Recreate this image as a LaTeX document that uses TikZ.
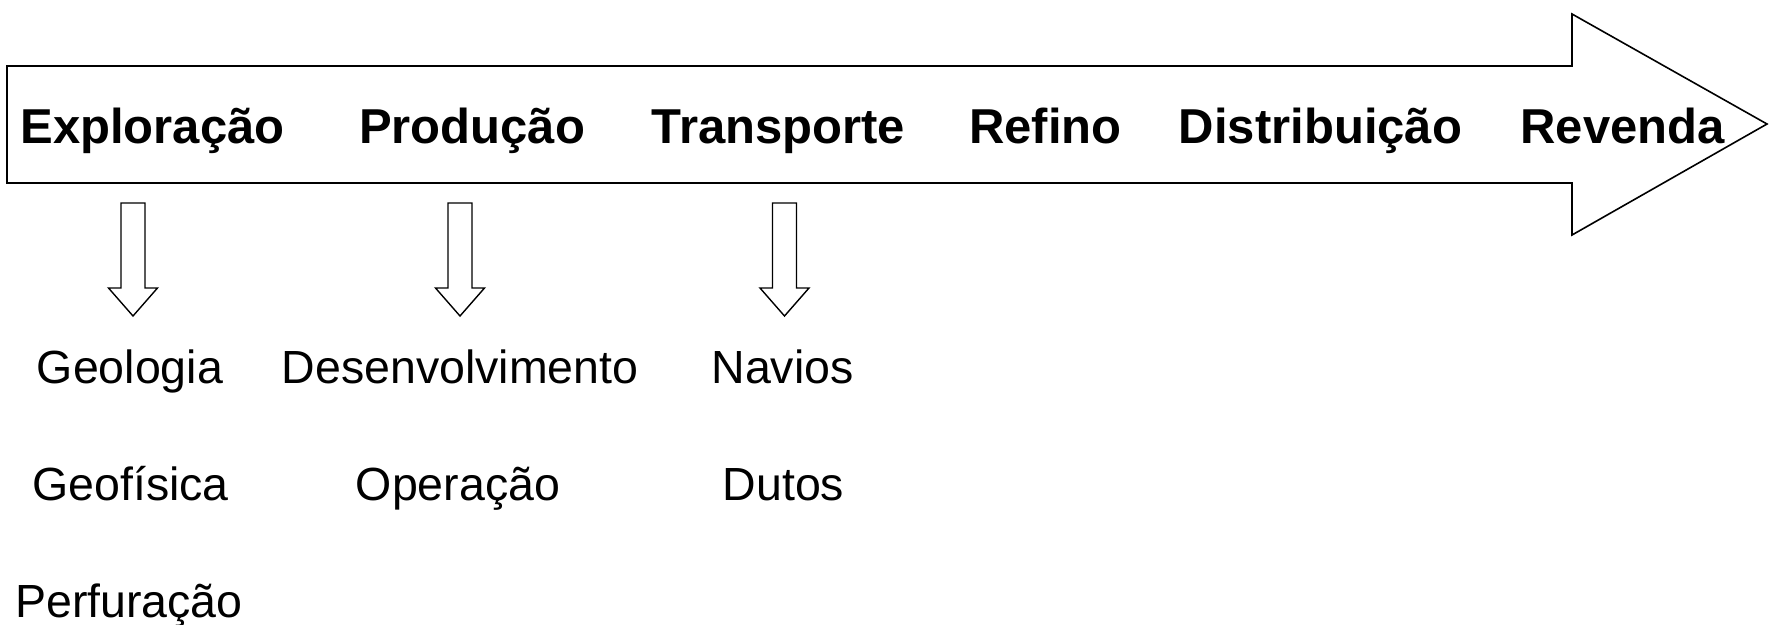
\documentclass[tikz,border=0pt]{standalone}
\usepackage{fontspec}
\setmainfont{Liberation Sans}
\begin{document}
\begin{tikzpicture}[x=1pt,y=-1pt,
  outline/.style={draw=black,line width=1.6pt,line join=miter,fill=white},
  thin outline/.style={draw=black,line width=1.4pt,line join=miter,fill=white},
  stage/.style={anchor=base,inner sep=0pt,font=\fontsize{49}{54}\selectfont\bfseries},
  item/.style={anchor=base,inner sep=0pt,font=\fontsize{46.5}{52}\selectfont},
  downarr/.pic={\path[thin outline] (-12,0) -- (12,0) -- (12,85) -- (24.5,85) -- (0,113) -- (-24.5,85) -- (-12,85) -- cycle;}]
\useasboundingbox (0,0) rectangle (1769,624);
% main arrow
\path[outline] (7,66) -- (1572,66) -- (1572,14) -- (1767,124) -- (1572,235) -- (1572,183) -- (7,183) -- cycle;
% stages
\node[stage] (expl) at (152.5,143) {Exploração};
\node[stage] (prod) at (472,143) {Produção};
\node[stage] (trans) at (778.5,143) {Transporte};
\node[stage] (ref) at (1045.5,143) {Refino};
\node[stage] (dist) at (1320.5,143) {Distribuição};
\node[stage] (rev) at (1622.5,143) {Revenda};
% small arrows
\pic at (133,203) {downarr};
\pic at (460,203) {downarr};
\pic at (784.5,203) {downarr};
% items
\node[item] (geol) at (130,383) {Geologia};
\node[item] (geof) at (130.5,500) {Geofísica};
\node[item] (perf) at (129,617) {Perfuração};
\node[item] (desen) at (460,383) {Desenvolvimento};
\node[item] (oper) at (458,500) {Operação};
\node[item] (nav) at (782.5,383) {Navios};
\node[item] (dut) at (783.5,500) {Dutos};
\end{tikzpicture}
\end{document}
